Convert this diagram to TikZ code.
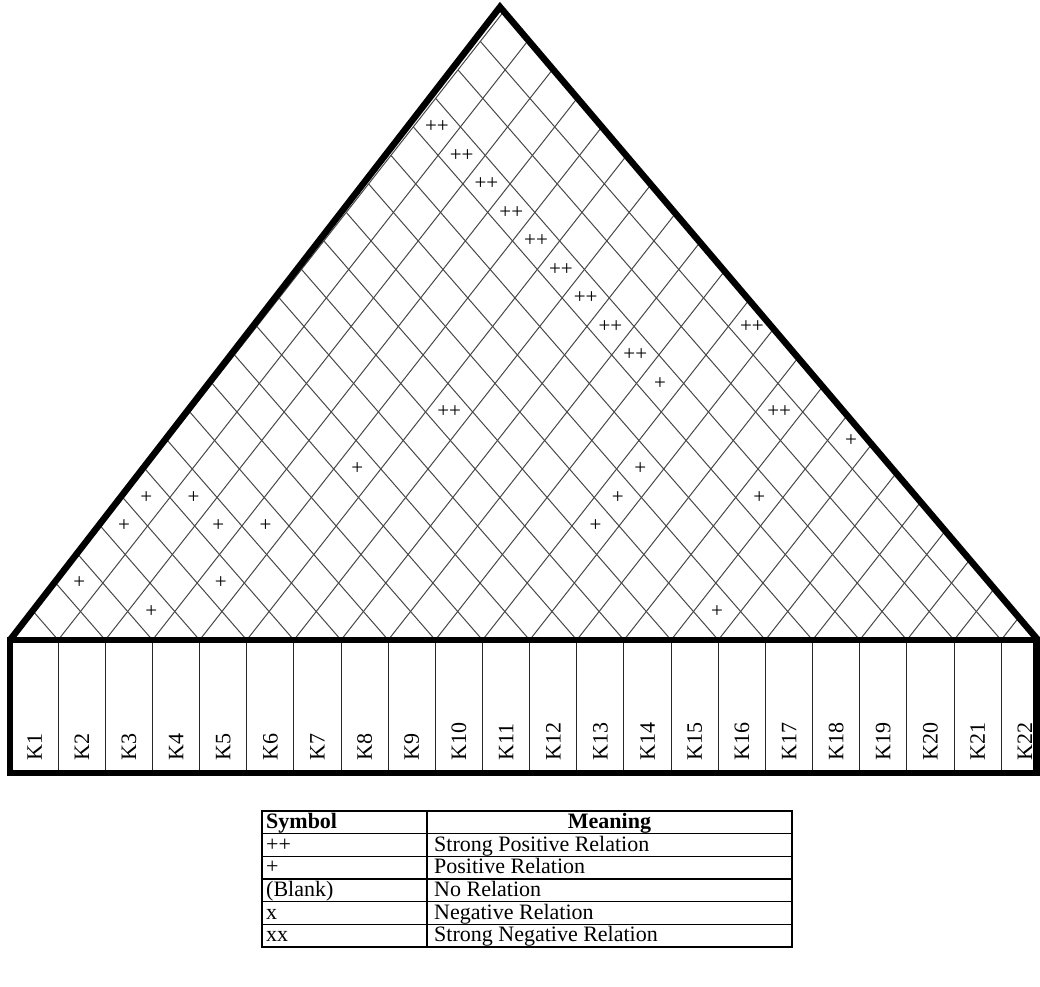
\documentclass[tikz,border=0pt]{standalone}
\usepackage{fontspec}
\setmainfont{Liberation Serif}
\begin{document}
\begin{tikzpicture}[x=1pt,y=-1pt,
  thickframe/.style={line width=6.5pt,line join=miter},
  roofline/.style={line width=1pt,black!72},
  colline/.style={line width=1pt,black!85},
  tabline/.style={line width=1.1pt},
  sym/.style={inner sep=0pt,font=\fontsize{21}{25}\selectfont},
  collabel/.style={rotate=90,anchor=west,inner sep=0pt,font=\fontsize{22}{26}\selectfont},
  celltext/.style={inner sep=0pt,anchor=base west,font=\fontsize{22}{26}\selectfont}]
\useasboundingbox (0,0) rectangle (1040,986);
% roof grid, clipped to the triangle
\begin{scope}
\clip (10,640) -- (500,7) -- (1038,640) -- cycle;
\foreach \k in {0,...,22}{
  \coordinate (b\k) at ({11+47.15*\k},640);
  \draw[roofline] (b\k) -- ++({0.784*28.507*(22-\k)},{-28.507*(22-\k)});
  \draw[roofline] (b\k) -- ++({-0.870*28.507*\k},{-28.507*\k});
}
\end{scope}
% correlation symbols
\foreach \i/\j/\s in {1/19/++,2/19/++,3/19/++,4/19/++,5/19/++,6/19/++,7/19/++,8/19/++,9/19/++,
  11/22/++,6/14/++,13/21/++,10/19/+,15/22/+,5/11/+,11/17/+,1/6/+,2/7/+,1/5/+,3/7/+,4/8/+,
  11/16/+,11/15/+,14/19/+,1/3/+,4/6/+,3/4/+,15/16/+}
  \node[sym] (r\i-\j) at ({11+47.15*(\i-0.5)+0.784*28.507*(\j-\i)},{640-28.507*(\j-\i)}) {\s};
% roof and column frame
\draw[thickframe] (10,640) -- (500,7) -- (1038,640);
\foreach \k in {1,...,21}
  \draw[colline] (b\k) -- ({11+47.15*\k},773);
\draw[thickframe] (10,640) rectangle (1036.5,773);
\foreach \k in {1,...,22}
  \node[collabel] (K\k) at ({11+47.15*(\k-0.5)},761) {K\k};
% legend table
\draw[tabline] (262,811) rectangle (792,947);
\draw[tabline] (427,811) -- (427,947);
\foreach \r in {1,...,5}
  \draw[tabline] (262,{811+22.67*\r}) -- (792,{811+22.67*\r});
\node[celltext] (hsym) at (266,828.5) {\textbf{Symbol}};
\node[celltext,anchor=base] (hmean) at (609.5,828.5) {\textbf{Meaning}};
\foreach \r/\a/\b in {1/{++}/{Strong Positive Relation},2/{+}/{Positive Relation},
  3/{(Blank)}/{No Relation},4/{x}/{Negative Relation},5/{xx}/{Strong Negative Relation}}{
  \node[celltext] (s\r) at (266,{828.5+22.67*\r}) {\a};
  \node[celltext] (m\r) at (434,{828.5+22.67*\r}) {\b};
}
\end{tikzpicture}
\end{document}
